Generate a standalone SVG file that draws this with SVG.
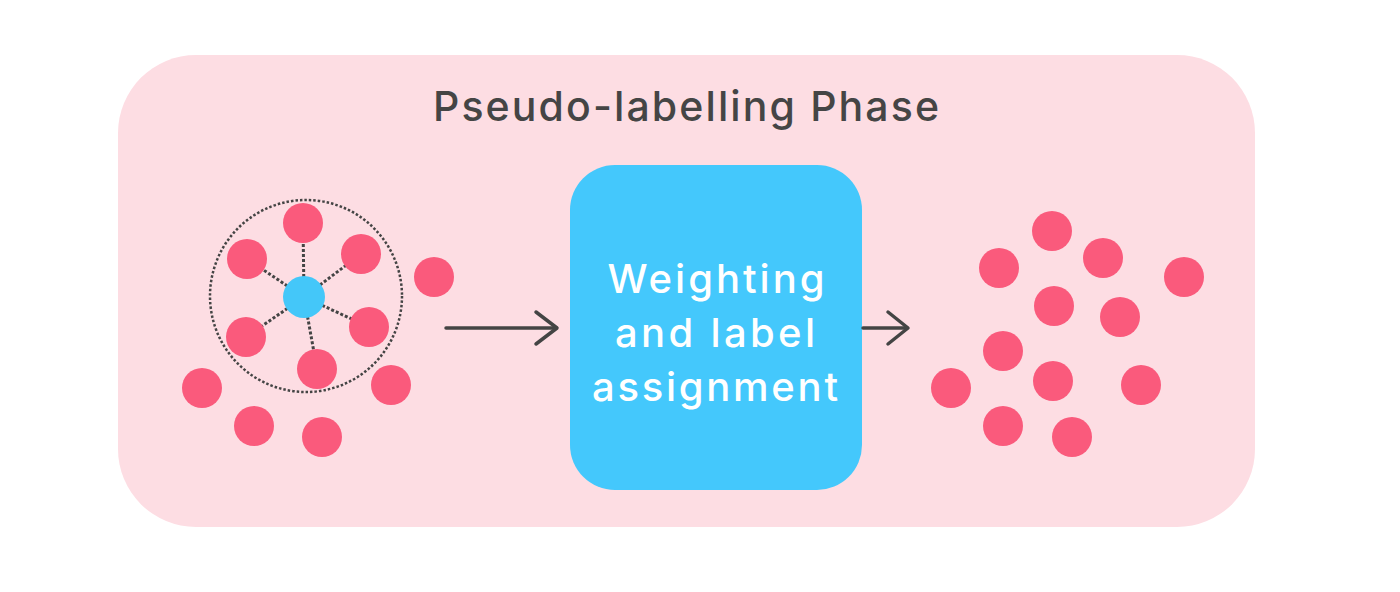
<svg xmlns="http://www.w3.org/2000/svg" width="1400" height="592" viewBox="0 0 1400 592">
<defs>
<style>
.dot{fill:#FA5A7C}
.spoke{stroke:#444;stroke-width:3;stroke-dasharray:3 2;fill:none}
.arrow{stroke:#444;stroke-width:3.5;fill:none;stroke-linecap:round;stroke-linejoin:round}
.title{font-family:Inter,"Noto Sans",sans-serif;font-size:41px;font-weight:500;fill:#454545}
.box-text{font-family:Inter,"Noto Sans",sans-serif;font-size:40px;font-weight:500;fill:#fff}
</style>
</defs>
<rect width="1400" height="592" fill="#fff"/>
<g id="phase">
<rect x="118" y="55" width="1137" height="472" rx="78" fill="#FDDDE3"/>
<text class="title" x="686" y="121" text-anchor="middle" textLength="506" lengthAdjust="spacing">Pseudo-labelling Phase</text>
</g>
<g id="input-cluster">
<circle cx="306" cy="296" r="96" fill="none" stroke="#444" stroke-width="2.5" stroke-dasharray="2.5 2"/>
<g class="spoke">
<line x1="304" y1="297" x2="303" y2="223"/>
<line x1="304" y1="297" x2="247" y2="259"/>
<line x1="304" y1="297" x2="361" y2="254"/>
<line x1="304" y1="297" x2="246" y2="337"/>
<line x1="304" y1="297" x2="369" y2="327"/>
<line x1="304" y1="297" x2="317" y2="369"/>
</g>
<circle class="dot" cx="303" cy="223" r="20"/>
<circle class="dot" cx="247" cy="259" r="20"/>
<circle class="dot" cx="361" cy="254" r="20"/>
<circle class="dot" cx="246" cy="337" r="20"/>
<circle class="dot" cx="369" cy="327" r="20"/>
<circle class="dot" cx="317" cy="369" r="20"/>
<circle class="dot" cx="434" cy="277" r="20"/>
<circle class="dot" cx="202" cy="388" r="20"/>
<circle class="dot" cx="391" cy="385" r="20"/>
<circle class="dot" cx="254" cy="426" r="20"/>
<circle class="dot" cx="322" cy="437" r="20"/>
<circle cx="304" cy="297" r="21" fill="#44C7F9"/>
</g>
<g id="weighting">
<rect x="570" y="165" width="292" height="325" rx="45" fill="#44C8FC"/>
<text class="box-text" x="716" y="293" text-anchor="middle" textLength="217" lengthAdjust="spacing">Weighting</text>
<text class="box-text" x="715" y="347" text-anchor="middle" textLength="200" lengthAdjust="spacing">and label</text>
<text class="box-text" x="715" y="401" text-anchor="middle" textLength="246" lengthAdjust="spacing">assignment</text>
</g>
<g id="output-cluster">
<circle class="dot" cx="1052" cy="231" r="20"/>
<circle class="dot" cx="999" cy="268" r="20"/>
<circle class="dot" cx="1103" cy="258" r="20"/>
<circle class="dot" cx="1184" cy="277" r="20"/>
<circle class="dot" cx="1054" cy="306" r="20"/>
<circle class="dot" cx="1120" cy="317" r="20"/>
<circle class="dot" cx="1003" cy="351" r="20"/>
<circle class="dot" cx="951" cy="388" r="20"/>
<circle class="dot" cx="1053" cy="381" r="20"/>
<circle class="dot" cx="1141" cy="385" r="20"/>
<circle class="dot" cx="1003" cy="426" r="20"/>
<circle class="dot" cx="1072" cy="437" r="20"/>
</g>
<g id="connectors" class="arrow">
<line x1="446" y1="328" x2="556" y2="328"/>
<polyline points="536,312 557,328 536,344"/>
<line x1="863" y1="328" x2="907" y2="328"/>
<polyline points="888,312 908,328 888,344"/>
</g>
</svg>
